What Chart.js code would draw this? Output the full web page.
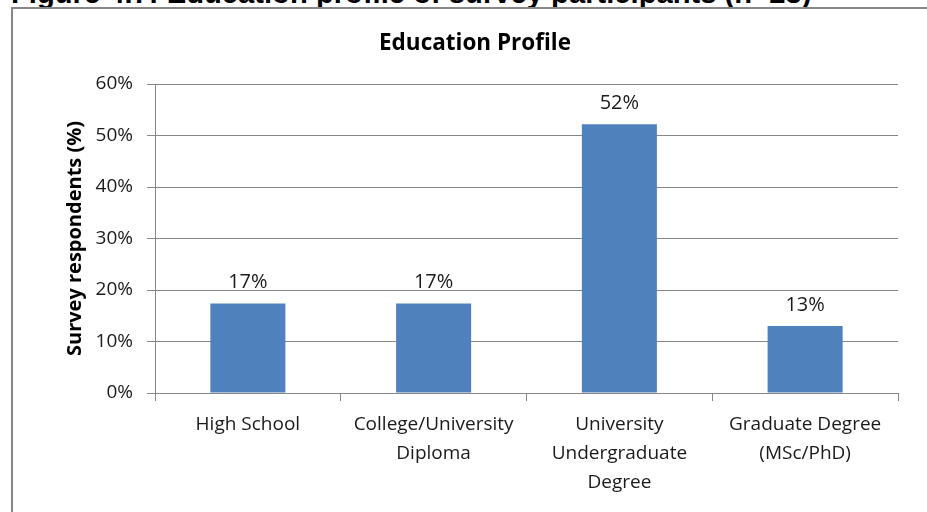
<!DOCTYPE html>
<html>
<head>
<meta charset="utf-8">
<script src="https://cdn.jsdelivr.net/npm/chart.js@4/dist/chart.umd.min.js"></script>
<style>
  html, body { margin: 0; padding: 0; background: #fff; overflow: hidden; }
  #caption {
    position: absolute; left: 11px; top: -21px;
    font: bold 29.2px "Liberation Sans", Arial, sans-serif;
    line-height: 29px; white-space: nowrap; color: #000;
  }
  #frame {
    position: absolute; left: 11px; top: 7px; width: 960px; height: 560px;
    border-left: 2px solid #878787; border-top: 2px solid #878787;
  }
  #wrap { position: absolute; left: 0; top: 0; width: 927px; height: 512px; }
</style>
</head>
<body>
<div id="caption">Figure 4.7: Education profile of survey participants (n=23)</div>
<div id="frame"></div>
<div id="wrap"><canvas id="eduChart"></canvas></div>
<script>
// Données du graphique
const categories = [
  ["High School"],
  ["College/University", "Diploma"],
  ["University", "Undergraduate", "Degree"],
  ["Graduate Degree", "(MSc/PhD)"]
];
const shares = [17.4, 17.4, 52.2, 13.0]; // % des répondants
const yTicks = [0, 10, 20, 30, 40, 50, 60];

const axisGrey = '#868686';
const textFont = '"Open Sans", sans-serif';

// Étiquettes au-dessus des barres
const valueLabels = {
  id: 'valueLabels',
  afterDatasetsDraw(chart) {
    const ctx = chart.ctx;
    const meta = chart.getDatasetMeta(0);
    ctx.save();
    ctx.font = '20px ' + textFont;
    ctx.fillStyle = '#1a1a1a';
    ctx.textAlign = 'center';
    ctx.textBaseline = 'middle';
    meta.data.forEach(function(bar, i) {
      ctx.fillText(Math.round(shares[i]) + '%', bar.x, bar.y - 21);
    });
    ctx.restore();
  }
};

// Centrer le titre sur le cadre plutôt que sur le canvas
const frameTitle = {
  id: 'frameTitle',
  afterLayout(chart) {
    if (chart.titleBlock) {
      chart.titleBlock.left = 22;
      chart.titleBlock.right = 928;
    }
  }
};

new Chart(document.getElementById('eduChart'), {
  type: 'bar',
  data: {
    labels: categories,
    datasets: [{
      data: shares,
      backgroundColor: '#4F81BD',
      borderWidth: 0,
      categoryPercentage: 1,
      barPercentage: 0.404
    }]
  },
  options: {
    responsive: true,
    maintainAspectRatio: false,
    animation: false,
    layout: { padding: { left: 0, right: 29, top: 0, bottom: 0 } },
    plugins: {
      legend: { display: false },
      tooltip: { enabled: false },
      title: {
        display: true,
        text: 'Education Profile',
        color: '#000',
        font: { family: textFont, size: 22.5, weight: 'bold', lineHeight: 1.2 },
        padding: { top: 30.5, bottom: 26.5 }
      }
    },
    scales: {
      x: {
        grid: {
          offset: true,
          drawOnChartArea: false,
          drawTicks: true,
          tickLength: 8,
          color: axisGrey
        },
        border: { display: true, color: axisGrey, width: 1 },
        ticks: {
          color: '#1a1a1a',
          font: { family: textFont, size: 19, lineHeight: 1.53 },
          padding: 9,
          maxRotation: 0,
          autoSkip: false
        },
        afterFit(scale) { scale.height = 119; }
      },
      y: {
        min: 0,
        max: 60,
        afterBuildTicks(scale) { scale.ticks = yTicks.map(v => ({ value: v })); },
        grid: { color: axisGrey, tickLength: 8, drawTicks: true },
        border: { display: true, color: axisGrey, width: 1 },
        ticks: {
          color: '#1a1a1a',
          font: { family: textFont, size: 19 },
          padding: 14,
          callback: v => v + '%'
        },
        title: {
          display: true,
          text: 'Survey respondents (%)',
          color: '#000',
          font: { family: textFont, size: 20, weight: 'bold', lineHeight: 1.2 },
          padding: { top: 63, bottom: 0 }
        },
        afterFit(scale) { scale.width = 155; }
      }
    }
  },
  plugins: [valueLabels, frameTitle]
});
</script>
</body>
</html>
